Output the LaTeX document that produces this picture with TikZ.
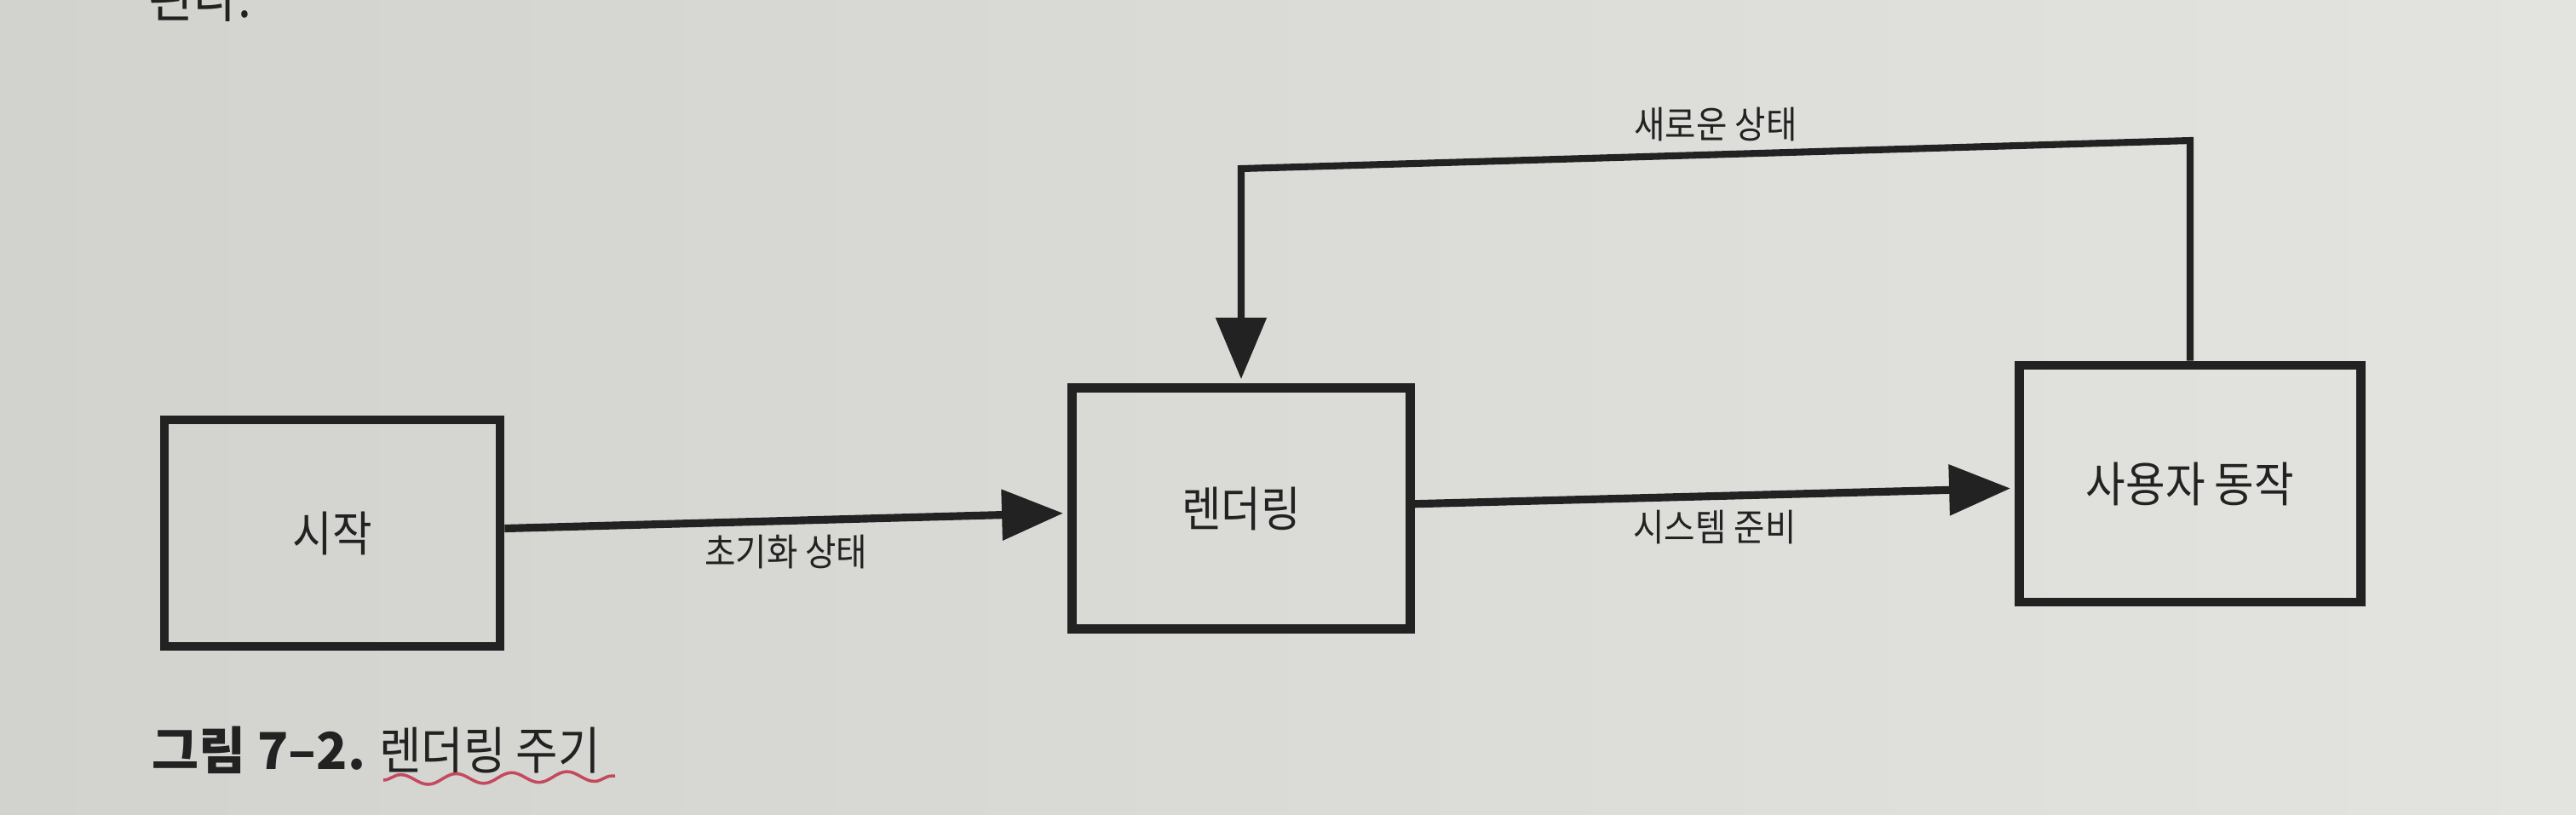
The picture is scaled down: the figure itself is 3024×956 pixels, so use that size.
\documentclass[tikz,border=0pt]{standalone}
\usepackage{fontspec}
\setmainfont{Noto Sans CJK KR}[FakeStretch=0.9]
\newfontfamily\capfont{Noto Sans CJK KR}
\usepackage{tikz}
\usetikzlibrary{arrows.meta, decorations.pathmorphing}
\definecolor{paper-left}{RGB}{210,210,206}
\definecolor{paper-right}{RGB}{227,227,224}
\definecolor{ink}{RGB}{34,34,34}
\definecolor{pen-red}{RGB}{196,72,94}

\begin{document}
\begin{tikzpicture}[x=0.01cm, y=-0.01cm]
	\tikzset{box/.style={rectangle, draw=ink, line width=3pt, text=ink, font=\fontsize{16}{19}\selectfont}}
	\tikzset{arr/.style={-{Triangle[length=0.72cm, width=0.58cm]}, draw=ink, line width=2.6pt, shorten >=0.05cm}}
	\tikzset{lbl/.style={text=ink, font=\fontsize{12.5}{15}\selectfont}}
	\shade[left color=paper-left, right color=paper-right] (0,0) rectangle (3024,956);
	\useasboundingbox (0,0) rectangle (3024,956);
	% end of the text above the figure
	\node[anchor=base west, inner sep=0, text=ink, font=\fontsize{18}{21}\selectfont] (prev) at (174,20) {된다.};
	\node[box, minimum width=3.94cm, minimum height=2.66cm] (start) at (390,626) {시작};
	\node[box, minimum width=3.97cm, minimum height=2.83cm] (render) at (1457,597) {렌더링};
	\node[box, minimum width=4.01cm, minimum height=2.78cm] (user) at (2571,568) {사용자 동작};
	\draw[arr] (start) -- node[lbl, below] {초기화 상태} (render);
	\draw[arr] (render) -- node[lbl, below] {시스템 준비} (user);
	\coordinate (turnR) at (2571,165);
	\coordinate (turnL) at (1457,198);
	\draw[arr, line width=2.3pt] (user.north) -- (turnR) -- node[lbl, above] {새로운 상태} (turnL) -- (render.north);
	% caption
	\node[anchor=base west, inner sep=0, text=ink, font=\fontsize{17}{20}\selectfont] (caption) at (178,903) {{\capfont\bfseries 그림 7–2.} 렌더링 주기};
	\draw[pen-red, line width=1pt, decorate, decoration={snake, segment length=0.65cm, amplitude=0.06cm}] (450,916) -- (722,911);
\end{tikzpicture}
\end{document}
